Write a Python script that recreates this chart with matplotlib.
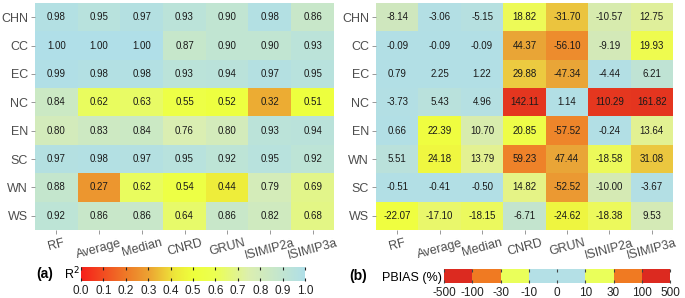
import numpy as np
import matplotlib
matplotlib.use("Agg")
import matplotlib.pyplot as plt
from matplotlib.colors import LinearSegmentedColormap, ListedColormap, BoundaryNorm, FuncNorm, Normalize

plt.rcParams['font.family'] = ['Liberation Sans', 'DejaVu Sans']

models = ["RF", "Average", "Median", "CNRD", "GRUN", "ISIMIP2a", "ISIMIP3a"]
models_b = ["RF", "Average", "Median", "CNRD", "GRUN", "ISINIP2a", "ISIMIP3a"]
regions_a = ["CHN", "CC", "EC", "NC", "EN", "SC", "WN", "WS"]
regions_b = ["CHN", "CC", "EC", "NC", "EN", "WN", "SC", "WS"]

r2 = np.array([
    [0.98, 0.95, 0.97, 0.93, 0.90, 0.98, 0.86],
    [1.00, 1.00, 1.00, 0.87, 0.90, 0.90, 0.93],
    [0.99, 0.98, 0.98, 0.93, 0.94, 0.97, 0.95],
    [0.84, 0.62, 0.63, 0.55, 0.52, 0.32, 0.51],
    [0.80, 0.83, 0.84, 0.76, 0.80, 0.93, 0.94],
    [0.97, 0.98, 0.97, 0.95, 0.92, 0.95, 0.92],
    [0.88, 0.27, 0.62, 0.54, 0.44, 0.79, 0.69],
    [0.92, 0.86, 0.86, 0.64, 0.86, 0.82, 0.68],
])

pbias = np.array([
    [-8.14, -3.06, -5.15, 18.82, -31.70, -10.57, 12.75],
    [-0.09, -0.09, -0.09, 44.37, -56.10, -9.19, 19.93],
    [0.79, 2.25, 1.22, 29.88, -47.34, -4.44, 6.21],
    [-3.73, 5.43, 4.96, 142.11, 1.14, 110.29, 161.82],
    [0.66, 22.39, 10.70, 20.85, -57.52, -0.24, 13.64],
    [5.51, 24.18, 13.79, 59.23, 47.44, -18.58, 31.08],
    [-0.51, -0.41, -0.50, 14.82, -52.52, -10.00, -3.67],
    [-22.07, -17.10, -18.15, -6.71, -24.62, -18.38, 9.53],
])

r2_ticks = [0.0, 0.1, 0.2, 0.3, 0.4, 0.5, 0.6, 0.7, 0.8, 0.9, 1.0]
pb_breaks = [-500, -100, -30, -10, 0, 10, 30, 100, 500]

# colormaps
cmap_r2 = LinearSegmentedColormap.from_list(
    "r2", [(0.0, '#f6201a'), (0.2, '#ef7a28'), (0.3, '#eca232'), (0.42, '#eee83a'),
           (0.5, '#eeff3c'), (0.6, '#ecff52'), (0.75, '#dcefb0'), (1.0, '#b0dfe8')])

# half-scale nodes (offset d from centre, 0..0.5) for PBIAS
half = [(0.0, '#b2dfe6'), (0.06, '#b4e0e4'), (0.10, '#cfe7c0'), (0.125, '#d6ebb4'),
        (0.15, '#e4f290'), (0.18, '#edfa58'), (0.20, '#f0ff40'), (0.23, '#eeee40'),
        (0.25, '#ecca40'), (0.277, '#e9a436'), (0.285, '#eaa638'), (0.30, '#ef852a'),
        (0.375, '#e6381f'), (0.5, '#dc2a20')]
nodes = [(0.5 - d, c) for d, c in reversed(half)] + [(0.5 + d, c) for d, c in half[1:]]
cmap_pb = LinearSegmentedColormap.from_list("pb", nodes, N=1024)
pos = np.linspace(0, 1, len(pb_breaks))
norm_pb = FuncNorm((lambda v: np.interp(v, pb_breaks, pos),
                    lambda p: np.interp(p, pos, pb_breaks)), vmin=-500, vmax=500)

fig = plt.figure(figsize=(6.85, 2.98), dpi=100)

txt_gray = '#4d4d4d'

def heat(ax, data, rows, cols, cmap, norm, fmt):
    ax.imshow(data, cmap=cmap, norm=norm, aspect='auto', interpolation='nearest',
              extent=(-0.5, len(cols) - 0.5, len(rows) - 0.5, -0.5))
    for i in range(len(rows)):
        for j in range(len(cols)):
            ax.text(j, i, fmt.format(data[i, j]), ha='center', va='center',
                    fontsize=7, color='#1a1a1a')
    ax.set_xticks(range(len(cols)))
    ax.set_xticklabels(cols, rotation=15, ha='center', fontsize=9, color=txt_gray)
    ax.set_yticks(range(len(rows)))
    ax.set_yticklabels(rows, fontsize=9, color=txt_gray)
    ax.tick_params(length=3, color='#888888', width=0.6, pad=2)
    for s in ax.spines.values():
        s.set_visible(False)

ax1 = fig.add_axes([35/685, 1 - 230/298, 299/685, 227/298])
heat(ax1, r2, regions_a, models, cmap_r2, Normalize(0, 1), "{:.2f}")
ax2 = fig.add_axes([376/685, 1 - 230/298, 297/685, 227/298])
heat(ax2, pbias, regions_b, models_b, cmap_pb, norm_pb, "{:.2f}")

# colourbar a
cax1 = fig.add_axes([81/685, 1 - 281/298, 224/685, 14/298])
grad = np.linspace(0, 1, 256)[None, :]
cax1.imshow(grad, cmap=cmap_r2, aspect='auto', extent=(0, 1, 0, 1))
cax1.set_xlim(0, 1)
cax1.set_yticks([])
cax1.set_xticks(r2_ticks)
cax1.set_xticklabels([f"{t:.1f}" for t in r2_ticks], fontsize=8.5, color='#222222')
cax1.tick_params(axis='x', direction='in', length=2, width=0.8, color='#222222',
                 top=True, pad=3)
for s in cax1.spines.values():
    s.set_visible(False)
fig.text(45/685, 1 - 274/298, "(a)", fontsize=10, fontweight='bold', ha='center', va='center')
fig.text(64/685, 1 - 274/298, "R$^2$", fontsize=9, ha='left', va='center')

# colourbar b
cax2 = fig.add_axes([444/685, 1 - 283/298, 226/685, 14/298])
block_cols = ['#dc2a20', '#f07a22', '#eaff5a', '#b4e0e6', '#b4e0e6', '#eaff5a', '#f07a22', '#dc2a20']
idx = np.arange(len(pb_breaks))
cax2.pcolormesh(idx, [0, 1], np.arange(len(block_cols))[None, :] + 0.5,
                cmap=ListedColormap(block_cols),
                norm=BoundaryNorm(np.arange(len(block_cols) + 1), len(block_cols)))
cax2.set_xlim(0, len(pb_breaks) - 1)
cax2.set_yticks([])
cax2.set_xticks(idx)
cax2.set_xticklabels([str(b) for b in pb_breaks], fontsize=8.5, color='#222222')
cax2.tick_params(axis='x', direction='in', length=2, width=0.8, color='#444444',
                 top=True, pad=3)
for s in cax2.spines.values():
    s.set_visible(False)
fig.text(358/685, 1 - 276/298, "(b)", fontsize=10, fontweight='bold', ha='center', va='center')
fig.text(442/685, 1 - 278/298, "PBIAS (%)", fontsize=9, ha='right', va='center')

fig.savefig("out.png", dpi=100)
